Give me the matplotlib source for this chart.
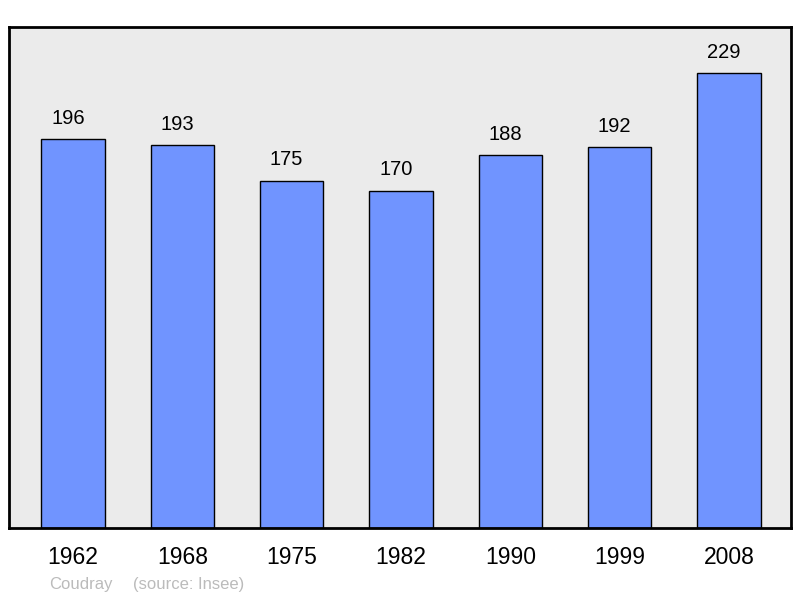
import matplotlib
matplotlib.use("Agg")
import matplotlib.pyplot as plt

years = ["1962", "1968", "1975", "1982", "1990", "1999", "2008"]
population = [196, 193, 175, 170, 188, 192, 229]
footer_name = "Coudray"
footer_source = "(source: Insee)"

plt.rcParams['font.family'] = ['Liberation Sans', 'DejaVu Sans']

fig = plt.figure(figsize=(8.0, 5.98), dpi=100)
ax = fig.add_axes([9/800, 1 - 528/598, 782/800, 501/598])
ax.set_facecolor('#ebebeb')

x = list(range(len(years)))
bars = ax.bar(x, population, width=0.578, color='#7094ff', edgecolor='black', linewidth=1.0)
for xi, v in zip(x, population):
    ax.annotate(str(v), (xi, v), xytext=(-3.6, 11), textcoords='offset points',
                ha='center', va='baseline', fontsize=14.5)

ax.set_xlim(-0.585, 6.567)
ax.set_ylim(0, 252.4)
ax.set_yticks([])
ax.set_xticks(x)
ax.set_xticklabels(years, fontsize=16.5)
ax.tick_params(axis='x', length=0, pad=13)
for s in ax.spines.values():
    s.set_linewidth(2)
    s.set_color('black')

fig.text(49/800, 1 - 584/598, footer_name, fontsize=12, color='#bbbbbb', va='center', ha='left')
fig.text(133/800, 1 - 584/598, footer_source, fontsize=12, color='#bbbbbb', va='center', ha='left')

fig.savefig("out.png", dpi=100)
